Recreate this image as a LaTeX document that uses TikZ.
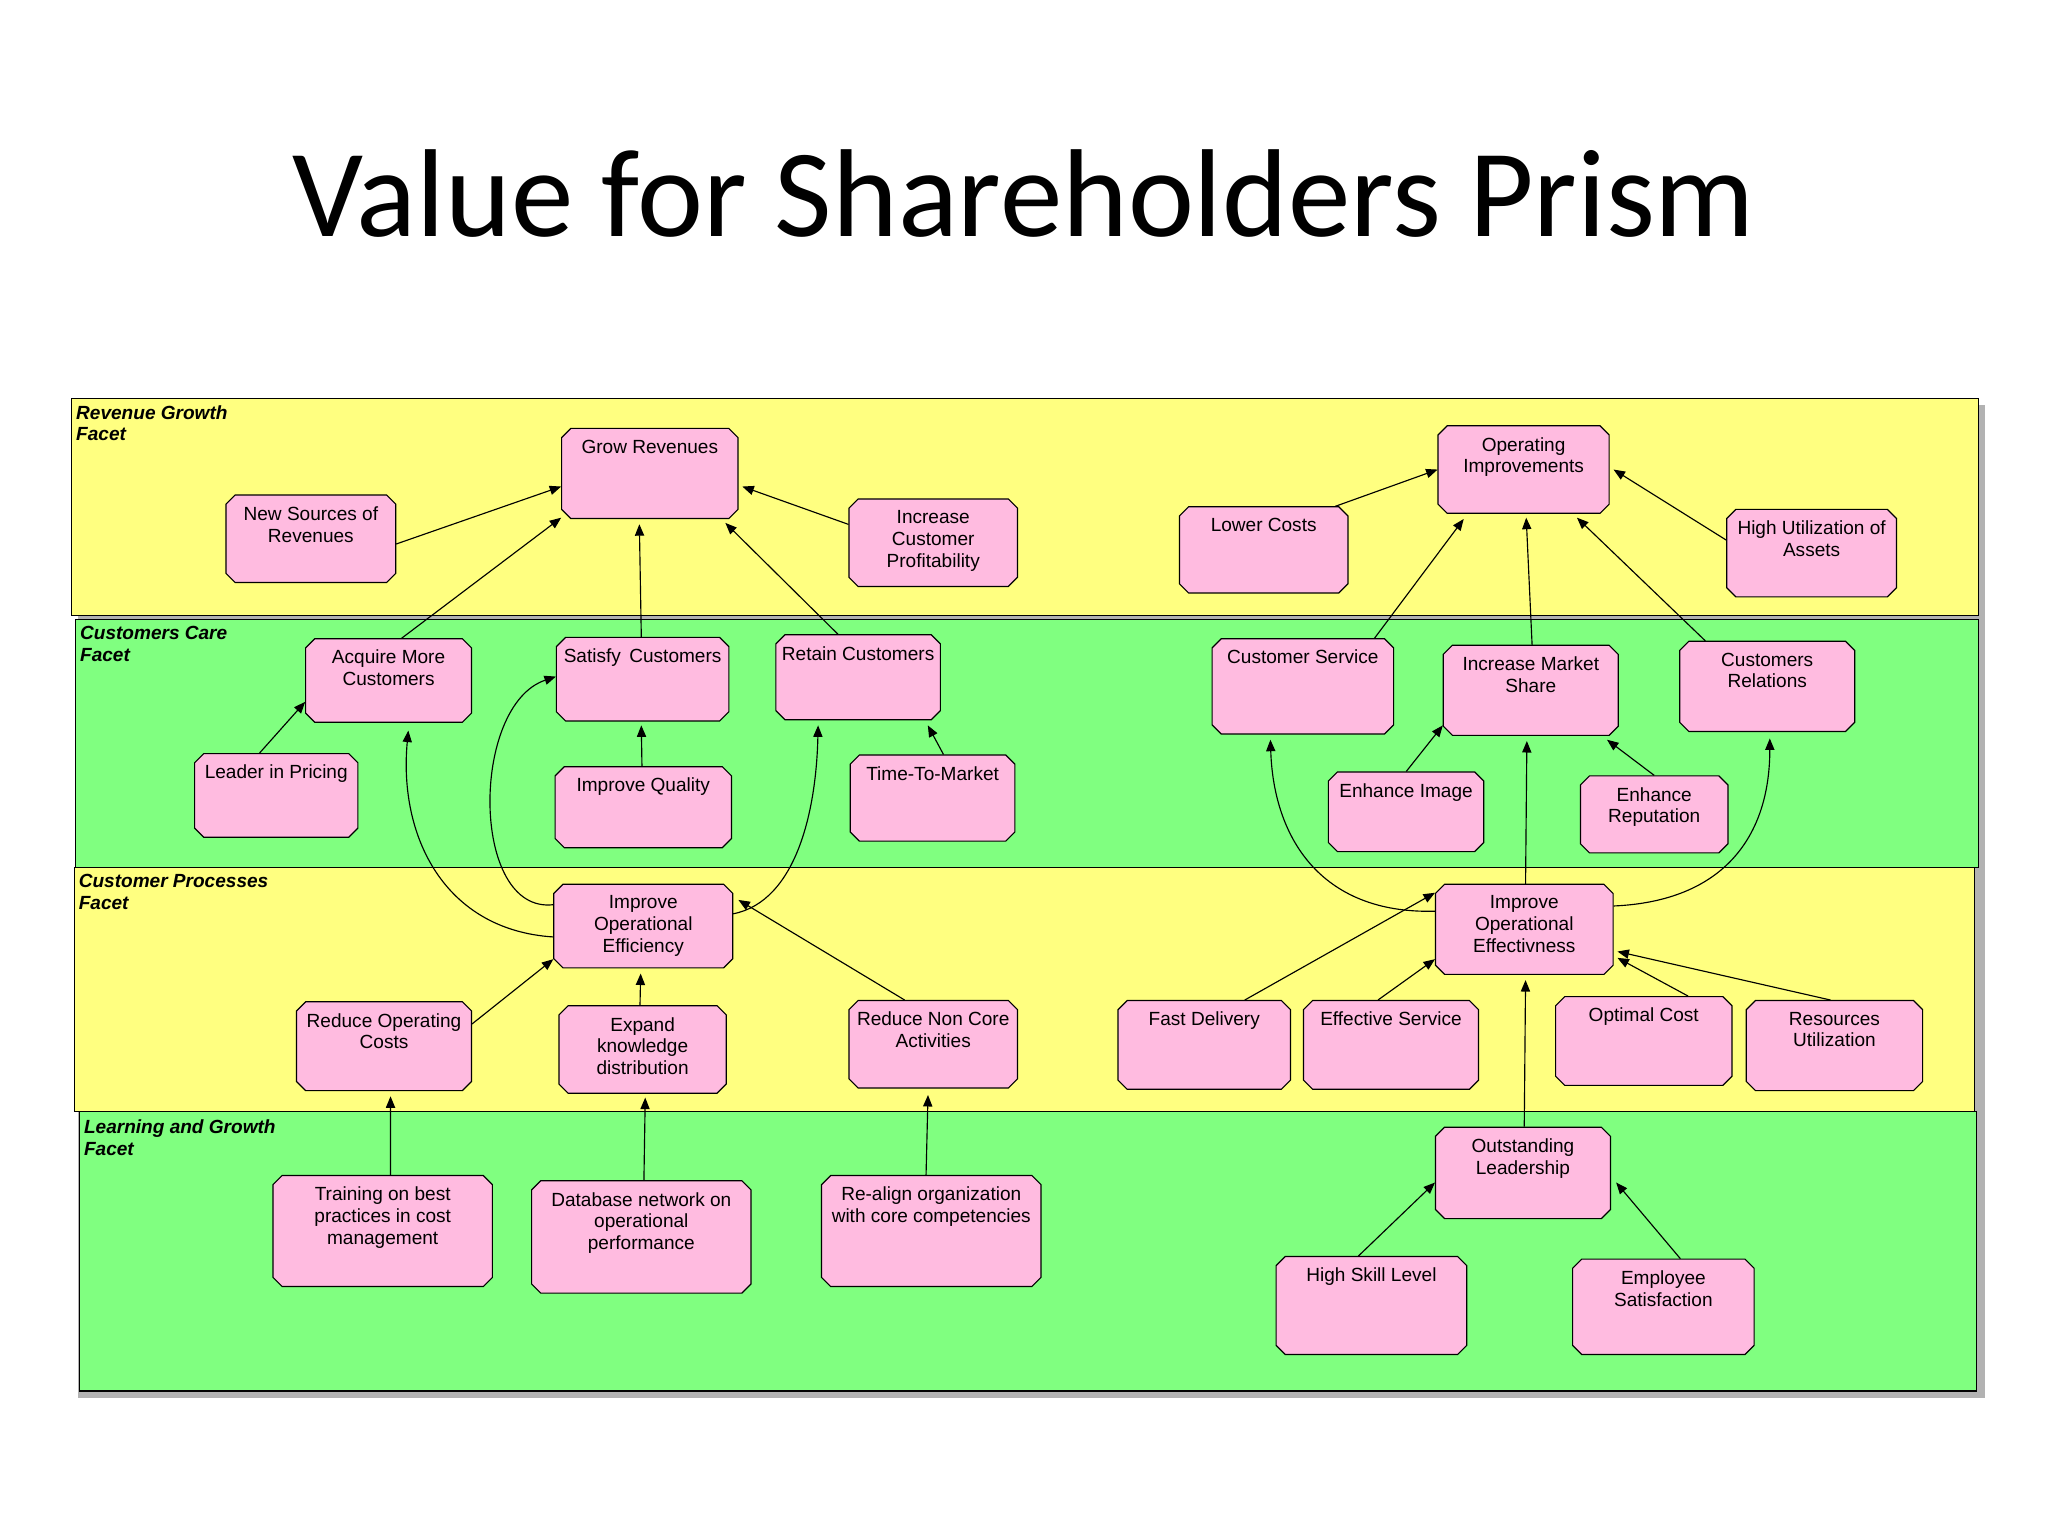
\documentclass[tikz,border=0pt]{standalone}
\usepackage{fontspec}
\setmainfont{Liberation Sans}
\newfontfamily\titlefont{Carlito}
\usetikzlibrary{arrows.meta}
\definecolor{bandY}{RGB}{255,255,128}
\definecolor{bandG}{RGB}{128,255,128}
\definecolor{boxP}{RGB}{255,187,224}
\tikzset{
  bxline/.style={draw=black,fill=boxP,line width=0.5pt},
  bx/.style={rectangle,draw=none,inner sep=0pt},
  bxtext/.style={anchor=north,align=center,font=\fontsize{8.3}{9.5}\selectfont,inner sep=0pt,yshift=-5pt},
  band/.style={draw=black,line width=0.5pt},
  facet/.style={font=\fontsize{8.3}{9.5}\selectfont\bfseries\itshape,anchor=north west,align=left,inner sep=0pt},
  arr/.style={-{Triangle[length=5pt,width=4pt]},line width=0.5pt}
}
\newcommand{\bxn}[6]{%
\path[bxline] ({#2+7},#3) -- ({#4-7},#3) -- (#4,{#3+7}) -- (#4,{#5-7}) -- ({#4-7},#5) -- ({#2+7},#5) -- (#2,{#5-7}) -- (#2,{#3+7}) -- cycle;
\node[bx,minimum width={0.02cm*(#4-#2)},minimum height={0.02cm*(#5-#3)},label={[bxtext]north:{#6}}] (#1) at ({(#2+#4)/2},{(#3+#5)/2}) {};}
\begin{document}
\begin{tikzpicture}[x=0.02cm,y=-0.02cm]
\useasboundingbox (0,0) rectangle (1568,1176);
\node[font=\titlefont\fontsize{54.5}{58}\selectfont] (title) at (784,148) {Value for Shareholders Prism};
\fill[gray!60] (60,310) rectangle (1520,1070);
\draw[band,fill=bandY] (55,305) rectangle (1515,471);
\draw[band,fill=bandG] (58,474) rectangle (1515,664);
\draw[band,fill=bandY] (57,664) rectangle (1512,851);
\draw[band,fill=bandG] (61,851) rectangle (1513,1065);
\node[facet] (f1) at (58,310) {Revenue Growth\\Facet};
\node[facet] (f2) at (61,479) {Customers Care\\Facet};
\node[facet] (f3) at (60,669) {Customer Processes\\Facet};
\node[facet] (f4) at (64,857) {Learning and Growth\\Facet};
\bxn{gr}{430}{328}{565}{397}{Grow Revenues}
\bxn{ns}{173}{379}{303}{446}{New Sources of\\Revenues}
\bxn{icp}{650}{382}{779}{449}{Increase\\Customer\\Profitability}
\bxn{oi}{1101}{326}{1232}{393}{Operating\\Improvements}
\bxn{lc}{903}{388}{1032}{454}{Lower Costs}
\bxn{hu}{1322}{390}{1452}{457}{High Utilization of\\Assets}
\bxn{ac}{234}{489}{361}{553}{Acquire More\\Customers}
\bxn{sc}{426}{488}{558}{552}{Satisfy\, Customers}
\bxn{rc}{594}{486}{720}{551}{Retain Customers}
\bxn{lp}{149}{577}{274}{641}{Leader in Pricing}
\bxn{iq}{425}{587}{560}{649}{Improve Quality}
\bxn{tm}{651}{578}{777}{644}{Time-To-Market}
\bxn{cs}{928}{489}{1067}{562}{Customer Service}
\bxn{ims}{1105}{494}{1239}{563}{Increase Market\\Share}
\bxn{cr}{1286}{491}{1420}{560}{Customers\\Relations}
\bxn{ei}{1017}{591}{1136}{652}{Enhance Image}
\bxn{er}{1210}{594}{1323}{653}{Enhance\\Reputation}
\bxn{ioe}{424}{677}{561}{741}{Improve\\Operational\\Efficiency}
\bxn{iov}{1099}{677}{1235}{746}{Improve\\Operational\\Effectivness}
\bxn{roc}{227}{767}{361}{835}{Reduce Operating\\Costs}
\bxn{ekd}{428}{770}{556}{837}{Expand\\knowledge\\distribution}
\bxn{rnc}{650}{766}{779}{833}{Reduce Non Core\\Activities}
\bxn{fd}{856}{766}{988}{834}{Fast Delivery}
\bxn{es}{998}{766}{1132}{834}{Effective Service}
\bxn{oc}{1191}{763}{1326}{831}{Optimal Cost}
\bxn{ru}{1337}{766}{1472}{835}{Resources\\Utilization}
\bxn{ol}{1099}{863}{1233}{933}{Outstanding\\Leadership}
\bxn{tr}{209}{900}{377}{985}{Training on best\\practices in cost\\management}
\bxn{db}{407}{904}{575}{990}{Database network on\\operational\\performance}
\bxn{ra}{629}{900}{797}{985}{Re-align organization\\with core competencies}
\bxn{hs}{977}{962}{1123}{1037}{High Skill Level}
\bxn{em}{1204}{964}{1343}{1037}{Employee\\Satisfaction}
% arrows
\draw[arr] ([yshift=-0.08cm]ns.east) -- ([yshift=-0.2cm]gr.west);
\draw[arr] ([yshift=0.28cm]icp.west) -- ([xshift=0.06cm,yshift=-0.2cm]gr.east);
\draw[arr] ([xshift=0.2cm]ac.north) -- ([yshift=0.02cm]gr.south west);
\draw[arr] ([xshift=-0.02cm]sc.north) -- ([xshift=-0.16cm,yshift=-0.08cm]gr.south);
\draw[arr] ([xshift=0.96cm]rc.north west) -- ([xshift=-0.2cm,yshift=-0.06cm]gr.south east);
\draw[arr] ([xshift=-0.2cm]lc.north east) -- (oi.west);
\draw[arr] ([yshift=0.2cm]hu.west) -- ([xshift=0.06cm]oi.east);
\draw[arr] ([xshift=-0.3cm]cs.north east) -- ([xshift=0.4cm,yshift=-0.08cm]oi.south west);
\draw[arr] ([xshift=0.02cm]ims.north) -- ([xshift=0.04cm,yshift=-0.06cm]oi.south);
\draw[arr] ([xshift=0.4cm]cr.north west) -- ([xshift=-0.5cm,yshift=-0.06cm]oi.south east);
\draw[arr] ([xshift=1.0cm]lp.north west) -- ([yshift=0.32cm]ac.south west);
\draw[arr] ([xshift=-0.02cm]iq.north) -- ([xshift=-0.02cm,yshift=-0.06cm]sc.south);
\draw[arr] ([xshift=-1.1cm]tm.north east) -- ([xshift=-0.2cm,yshift=-0.08cm]rc.south east);
\draw[arr] ([xshift=1.2cm]ei.north west) -- ([yshift=0.16cm]ims.south west);
\draw[arr] (er.north) -- ([xshift=-0.18cm,yshift=-0.06cm]ims.south east);
\draw[arr] ([yshift=0.48cm]ioe.south west) .. controls (340,712) and (305,640) .. ([xshift=1.58cm,yshift=-0.12cm]ac.south west);
\draw[arr] ([yshift=-0.32cm]ioe.north west) .. controls (360,700) and (360,540) .. ([yshift=0.04cm]sc.west);
\draw[arr] ([yshift=-0.46cm]ioe.north east) .. controls (610,690) and (625,620) .. ([xshift=-1.88cm,yshift=-0.08cm]rc.south east);
\draw[arr] ([yshift=0.34cm]roc.east) -- ([yshift=0.14cm]ioe.south west);
\draw[arr] ([xshift=-0.04cm]ekd.north) -- ([xshift=-0.04cm,yshift=-0.08cm]ioe.south);
\draw[arr] ([xshift=0.86cm]rnc.north west) -- ([xshift=0.08cm,yshift=0.4cm]ioe.east);
\draw[arr] ([xshift=0.12cm]tr.north) -- ([xshift=0.1cm,yshift=-0.08cm]roc.south);
\draw[arr] ([xshift=0.04cm]db.north) -- ([xshift=0.04cm,yshift=-0.06cm]ekd.south);
\draw[arr] ([xshift=-0.08cm]ra.north) -- ([xshift=-0.08cm,yshift=-0.1cm]rnc.south);
\draw[arr] ([yshift=-0.42cm]iov.north west) .. controls (1010,700) and (975,640) .. ([xshift=0.9cm,yshift=-0.08cm]cs.south west);
\draw[arr] ([xshift=0.02cm]iov.north) -- ([xshift=-0.06cm,yshift=-0.08cm]ims.south);
\draw[arr] ([yshift=-0.34cm]iov.north east) .. controls (1320,690) and (1355,640) .. ([xshift=0.04cm,yshift=-0.1cm]cr.south);
\draw[arr] ([xshift=0.62cm]fd.north) -- ([yshift=0.56cm]iov.west);
\draw[arr] ([xshift=-0.2cm]es.north) -- ([yshift=0.24cm]iov.south west);
\draw[arr] ([xshift=0.68cm]oc.north) -- ([xshift=0.06cm,yshift=0.26cm]iov.south east);
\draw[arr] ([xshift=-0.06cm]ru.north) -- ([xshift=0.06cm,yshift=-0.34cm]iov.east);
\draw[arr] ([xshift=0.02cm]ol.north) -- ([xshift=0.02cm,yshift=-0.08cm]iov.south);
\draw[arr] ([xshift=-0.2cm]hs.north) -- ([yshift=0.56cm]ol.south west);
\draw[arr] ([xshift=0.26cm]em.north) -- ([xshift=0.08cm,yshift=0.56cm]ol.south east);
\end{tikzpicture}
\end{document}
